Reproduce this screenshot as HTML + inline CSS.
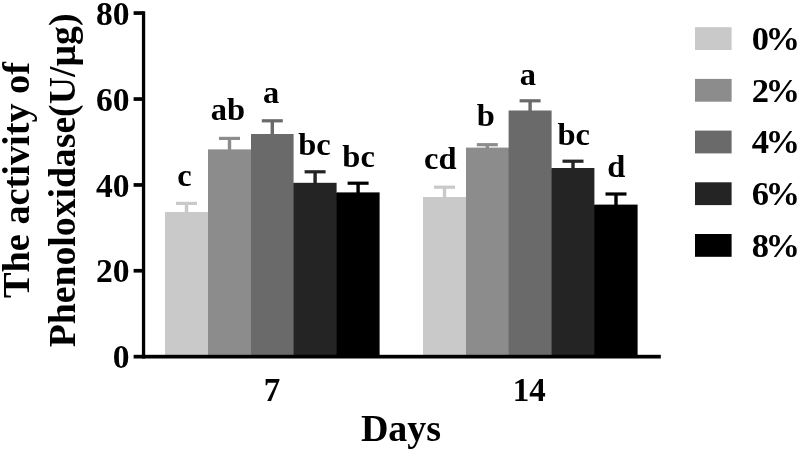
<!DOCTYPE html>
<html><head><meta charset="utf-8"><title>Phenoloxidase activity</title>
<style>
html,body{margin:0;padding:0;background:#fff;}
body{width:800px;height:451px;overflow:hidden;}
svg{display:block;filter:blur(0.45px);}
text{font-family:"Liberation Serif","Times New Roman",serif;font-weight:bold;fill:#000;}
.t{font-size:33.6px;}
.g{font-size:34.5px;}
.l{font-size:32.5px;}
.x{font-size:33px;}
.a{font-size:38px;}
</style></head><body>
<svg width="800" height="451" viewBox="0 0 800 451">
<rect width="800" height="451" fill="#fff"/>
<rect x="207.0" y="212.5" width="2" height="143.3" fill="#c9c9c9"/>
<rect x="250.0" y="149.9" width="2" height="205.9" fill="#8c8c8c"/>
<rect x="292.6" y="183.3" width="2" height="172.5" fill="#6a6a6a"/>
<rect x="335.6" y="192.9" width="2" height="162.9" fill="#242424"/>
<rect x="465.0" y="197.5" width="2" height="158.3" fill="#c9c9c9"/>
<rect x="507.6" y="148.1" width="2" height="207.7" fill="#8c8c8c"/>
<rect x="550.6" y="168.5" width="2" height="187.3" fill="#6a6a6a"/>
<rect x="593.4" y="205.1" width="2" height="150.7" fill="#242424"/>
<rect x="165.0" y="212.0" width="43.0" height="143.8" fill="#c9c9c9"/>
<rect x="184.8" y="203.4" width="3.4" height="9.6" fill="#c9c9c9"/>
<rect x="176.0" y="201.8" width="21" height="3.2" fill="#c9c9c9"/>
<rect x="208.0" y="149.4" width="43.0" height="206.4" fill="#8c8c8c"/>
<rect x="227.8" y="138.4" width="3.4" height="12.0" fill="#8c8c8c"/>
<rect x="219.0" y="136.8" width="21" height="3.2" fill="#8c8c8c"/>
<rect x="251.0" y="134.0" width="42.6" height="221.8" fill="#6a6a6a"/>
<rect x="270.6" y="120.8" width="3.4" height="14.2" fill="#6a6a6a"/>
<rect x="261.8" y="119.2" width="21" height="3.2" fill="#6a6a6a"/>
<rect x="293.6" y="182.8" width="43.0" height="173.0" fill="#242424"/>
<rect x="313.4" y="171.8" width="3.4" height="12.0" fill="#242424"/>
<rect x="304.6" y="170.2" width="21" height="3.2" fill="#242424"/>
<rect x="336.6" y="192.4" width="43.0" height="163.4" fill="#000000"/>
<rect x="356.4" y="183.2" width="3.4" height="10.2" fill="#000000"/>
<rect x="347.6" y="181.6" width="21" height="3.2" fill="#000000"/>
<rect x="423.0" y="197.0" width="43.0" height="158.8" fill="#c9c9c9"/>
<rect x="442.8" y="187.2" width="3.4" height="10.8" fill="#c9c9c9"/>
<rect x="434.0" y="185.6" width="21" height="3.2" fill="#c9c9c9"/>
<rect x="466.0" y="147.6" width="42.6" height="208.2" fill="#8c8c8c"/>
<rect x="485.6" y="144.7" width="3.4" height="3.9" fill="#8c8c8c"/>
<rect x="476.8" y="143.1" width="21" height="3.2" fill="#8c8c8c"/>
<rect x="508.6" y="110.5" width="43.0" height="245.3" fill="#6a6a6a"/>
<rect x="528.4" y="100.8" width="3.4" height="10.7" fill="#6a6a6a"/>
<rect x="519.6" y="99.2" width="21" height="3.2" fill="#6a6a6a"/>
<rect x="551.6" y="168.0" width="42.8" height="187.8" fill="#242424"/>
<rect x="571.3" y="161.2" width="3.4" height="7.8" fill="#242424"/>
<rect x="562.5" y="159.6" width="21" height="3.2" fill="#242424"/>
<rect x="594.4" y="204.6" width="43.2" height="151.2" fill="#000000"/>
<rect x="614.3" y="194.0" width="3.4" height="11.6" fill="#000000"/>
<rect x="605.5" y="192.4" width="21" height="3.2" fill="#000000"/>
<rect x="141.9" y="11.3" width="3.3" height="347.2" fill="#000"/>
<rect x="133.6" y="354.8" width="527.2" height="3.7" fill="#000"/>
<rect x="133.6" y="11.2" width="10" height="3.7" fill="#000"/>
<rect x="133.6" y="97.2" width="10" height="3.7" fill="#000"/>
<rect x="133.6" y="183.1" width="10" height="3.7" fill="#000"/>
<rect x="133.6" y="268.9" width="10" height="3.7" fill="#000"/>
<text class="t" x="129.6" y="24.7" text-anchor="end">80</text>
<text class="t" x="129.6" y="110.6" text-anchor="end">60</text>
<text class="t" x="129.6" y="196.5" text-anchor="end">40</text>
<text class="t" x="129.6" y="282.4" text-anchor="end">20</text>
<text class="t" x="129.6" y="368.2" text-anchor="end">0</text>
<text class="l" x="184.5" y="186.3" text-anchor="middle">c</text>
<text class="l" x="227.8" y="120.2" text-anchor="middle">ab</text>
<text class="l" x="271.2" y="103.0" text-anchor="middle">a</text>
<text class="l" x="314.4" y="154.6" text-anchor="middle">bc</text>
<text class="l" x="358.6" y="167.2" text-anchor="middle">bc</text>
<text class="l" x="440.3" y="168.6" text-anchor="middle">cd</text>
<text class="l" x="485.9" y="125.8" text-anchor="middle">b</text>
<text class="l" x="527.8" y="84.5" text-anchor="middle">a</text>
<text class="l" x="573.8" y="145.2" text-anchor="middle">bc</text>
<text class="l" x="616.2" y="177.2" text-anchor="middle">d</text>
<text class="x" x="272.1" y="401" text-anchor="middle">7</text>
<text class="x" x="529.2" y="401" text-anchor="middle">14</text>
<text class="a" x="401" y="440.8" text-anchor="middle">Days</text>
<text class="a" transform="translate(28.75,180) rotate(-90) scale(1.0077,1)" text-anchor="middle">The activity of</text>
<text class="a" transform="translate(75,180.4) rotate(-90) scale(0.9925,1)" text-anchor="middle">Phenoloxidase(U/µg)</text>
<rect x="695" y="27.2" width="36.6" height="22.8" fill="#c9c9c9"/>
<text class="g" x="751.8" y="49.8">0<tspan dx="-3.5">%</tspan></text>
<rect x="695" y="78.9" width="36.6" height="22.8" fill="#8c8c8c"/>
<text class="g" x="751.8" y="101.5">2<tspan dx="-3.5">%</tspan></text>
<rect x="695" y="130.6" width="36.6" height="22.8" fill="#6a6a6a"/>
<text class="g" x="751.8" y="153.2">4<tspan dx="-3.5">%</tspan></text>
<rect x="695" y="182.3" width="36.6" height="22.8" fill="#242424"/>
<text class="g" x="751.8" y="204.9">6<tspan dx="-3.5">%</tspan></text>
<rect x="695" y="234.0" width="36.6" height="22.8" fill="#000000"/>
<text class="g" x="751.8" y="256.6">8<tspan dx="-3.5">%</tspan></text>
</svg></body></html>
